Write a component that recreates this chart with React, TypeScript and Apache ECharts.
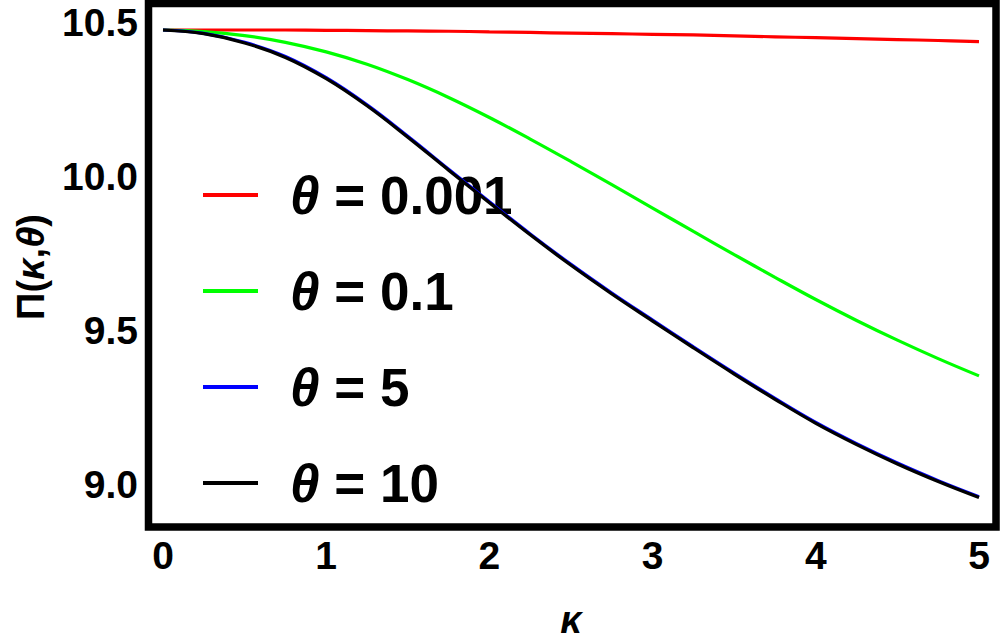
import React, { useEffect, useRef } from "react";
import * as echarts from "echarts";

const kappa = [0, 0.25, 0.5, 0.75, 1, 1.25, 1.5, 1.75, 2, 2.25, 2.5, 2.75, 3, 3.25, 3.5, 3.75, 4, 4.25, 4.5, 4.75, 5];

const theta0001 = [10.474, 10.474, 10.474, 10.474, 10.473, 10.472, 10.471, 10.47, 10.468, 10.466, 10.464, 10.462, 10.46, 10.458, 10.455, 10.452, 10.449, 10.446, 10.443, 10.44, 10.436];
const theta01 = [10.474, 10.469, 10.456, 10.434, 10.403, 10.363, 10.313, 10.255, 10.19, 10.12, 10.047, 9.972, 9.896, 9.82, 9.745, 9.671, 9.599, 9.531, 9.467, 9.407, 9.351];
const theta5 = [10.474, 10.463, 10.434, 10.388, 10.319, 10.231, 10.129, 10.022, 9.916, 9.812, 9.713, 9.62, 9.532, 9.445, 9.36, 9.278, 9.2, 9.131, 9.068, 9.011, 8.959];
const theta10 = [10.474, 10.462, 10.432, 10.385, 10.316, 10.228, 10.126, 10.019, 9.913, 9.809, 9.71, 9.617, 9.529, 9.442, 9.357, 9.275, 9.197, 9.128, 9.065, 9.008, 8.956];

const seriesNames = ["θ = 0.001", "θ = 0.1", "θ = 5", "θ = 10"];
const seriesColors = ["#ff0000", "#00ff00", "#0000ff", "#000000"];
const seriesValues = [theta0001, theta01, theta5, theta10];

const xTicks = [0, 5, 1];
const yTicks = [9.0, 10.5, 0.5];

const FONT = '"Liberation Sans", Arial, sans-serif';

export default function App() {
  const ref = useRef<HTMLDivElement>(null);
  useEffect(() => {
    if (!ref.current) return;
    const chart = echarts.init(ref.current, null, { renderer: "svg" });
    const option = {
      animation: false,
      backgroundColor: "#ffffff",
      grid: { left: 163, right: 21, top: 22, bottom: 157, containLabel: false },
      xAxis: {
        type: "value",
        min: xTicks[0],
        max: xTicks[1],
        interval: xTicks[2],
        axisLine: { show: false },
        axisTick: { show: false },
        splitLine: { show: false },
        axisLabel: {
          fontSize: 39,
          fontWeight: "bold",
          color: "#000",
          fontFamily: FONT,
          margin: 52,
        },
        name: "κ",
        nameLocation: "middle",
        nameGap: 117,
        nameTextStyle: {
          fontSize: 38,
          fontWeight: "bold",
          fontStyle: "italic",
          color: "#000",
          fontFamily: FONT,
        },
      },
      yAxis: {
        type: "value",
        min: yTicks[0],
        max: yTicks[1],
        interval: yTicks[2],
        axisLine: { show: false },
        axisTick: { show: false },
        splitLine: { show: false },
        axisLabel: {
          fontSize: 39,
          fontWeight: "bold",
          color: "#000",
          fontFamily: FONT,
          margin: 25,
          formatter: (v: number) => v.toFixed(1),
        },
      },
      legend: {
        orient: "vertical",
        left: 198,
        top: 160,
        itemWidth: 55,
        itemHeight: 4,
        icon: "rect",
        itemGap: 36,
        selectedMode: false,
        data: seriesNames,
        formatter: (name: string) => "{t|θ}{n|" + name.slice(1) + "}",
        textStyle: {
          fontSize: 53,
          fontWeight: "bold",
          color: "#000",
          fontFamily: FONT,
          lineHeight: 60,
          padding: [0, 0, 0, 27],
          rich: {
            t: { fontSize: 53, fontWeight: "bold", fontStyle: "italic", color: "#000", fontFamily: FONT, lineHeight: 60 },
            n: { fontSize: 53, fontWeight: "bold", color: "#000", fontFamily: FONT, lineHeight: 60 },
          },
        },
      },
      series: seriesNames.map((name, i) => ({
        name,
        type: "line",
        data: kappa.map((k, j) => [k, seriesValues[i][j]]),
        showSymbol: false,
        symbol: "none",
        smooth: 0.4,
        clip: false,
        color: seriesColors[i],
        itemStyle: { color: seriesColors[i] },
        lineStyle: { color: seriesColors[i], width: 3.2 },
        z: 2 + i,
      })),
      graphic: [
        {
          type: "rect",
          shape: { x: 148.5, y: 3.5, width: 847.5, height: 523.5 },
          style: { fill: "none", stroke: "#000", lineWidth: 7.5 },
          z: 10,
        },
        {
          type: "text",
          x: 31,
          y: 267,
          rotation: Math.PI / 2,
          style: {
            text: "{n|Π(}{i|κ}{n|,}{i|θ}{n|)}",
            textAlign: "center",
            textVerticalAlign: "middle",
            fill: "#000",
            rich: {
              n: { fontSize: 38, fontWeight: "bold", fontFamily: FONT, fill: "#000" },
              i: { fontSize: 38, fontWeight: "bold", fontStyle: "italic", fontFamily: FONT, fill: "#000" },
            },
          },
          z: 10,
        },
      ],
    };
    chart.setOption(option as any);
    return () => chart.dispose();
  }, []);
  return (
    <div
      ref={ref}
      style={{ position: "fixed", left: 0, top: 0, width: 1000, height: 644, background: "#fff" }}
    />
  );
}
